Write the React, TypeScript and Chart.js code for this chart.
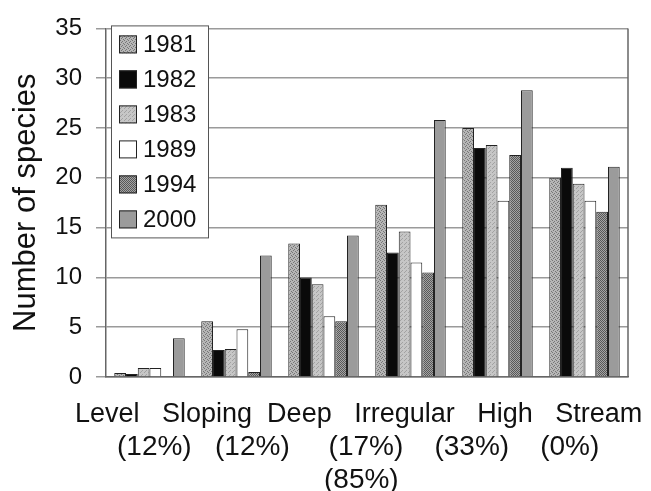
import { useEffect, useRef } from 'react';
import { Chart, registerables } from 'chart.js';

Chart.register(...registerables);

const categories = ['Level', 'Sloping', 'Deep', 'Irregular', 'High', 'Stream'];
const years = ['1981', '1982', '1983', '1989', '1994', '2000'];
const v1981 = [0.4, 5.6, 13.4, 17.3, 25.0, 20.0];
const v1982 = [0.3, 2.7, 10.0, 12.5, 23.0, 21.0];
const v1983 = [0.9, 2.8, 9.3, 14.6, 23.3, 19.4];
const v1989 = [0.9, 4.8, 6.1, 11.5, 17.7, 17.7];
const v1994 = [0, 0.5, 5.6, 10.5, 22.3, 16.6];
const v2000 = [3.9, 12.2, 14.2, 25.8, 28.8, 21.1];
const yMin = 0;
const yMax = 35;
const yStep = 5;
const yTitle = 'Number of species';
const xLabelLine1 = 'Level   Sloping  Deep   Irregular   High   Stream';
const xLabelLine2 = '(12%)   (12%)     (17%)    (33%)    (0%)';
const xLabelLine3 = '(85%)';

const FONT = "'Liberation Sans', Arial, Helvetica, sans-serif";

function makePattern(bg: string, fg: string, cells: number[][], size = 4) {
  const c = document.createElement('canvas');
  c.width = size;
  c.height = size;
  const x = c.getContext('2d')!;
  x.fillStyle = bg;
  x.fillRect(0, 0, size, size);
  x.fillStyle = fg;
  cells.forEach(([i, j]) => x.fillRect(i, j, 1, 1));
  return x.createPattern(c, 'repeat')!;
}

export default function App() {
  const ref = useRef<HTMLCanvasElement | null>(null);

  useEffect(() => {
    if (!ref.current) return;
    const fills: any[] = [
      makePattern('#b6b6b6', '#767676', [[0, 0], [2, 1], [1, 2], [3, 3]]),
      '#0a0a0a',
      makePattern('#c6c6c6', '#a2a2a2', [[0, 0], [2, 2], [1, 3]]),
      '#ffffff',
      makePattern('#a4a4a4', '#585858', [[0, 0], [2, 0], [1, 1], [3, 1], [0, 2], [2, 2], [1, 3], [3, 3]]),
      '#9b9b9b',
    ];
    const series = [v1981, v1982, v1983, v1989, v1994, v2000];

    const decor = {
      id: 'decor',
      afterDatasetsDraw(chart: any) {
        const { ctx, chartArea } = chart;
        ctx.save();
        // right border of the plot
        ctx.strokeStyle = '#666';
        ctx.lineWidth = 1.5;
        ctx.beginPath();
        ctx.moveTo(chartArea.right, chartArea.top);
        ctx.lineTo(chartArea.right, chartArea.bottom);
        ctx.stroke();
        // legend box inside the plot
        const bx = chartArea.left + 5;
        const by = chartArea.top - 3;
        const bw = 97;
        const bh = 212;
        ctx.fillStyle = '#ffffff';
        ctx.fillRect(bx, by, bw, bh);
        ctx.strokeStyle = '#555';
        ctx.lineWidth = 1;
        ctx.strokeRect(bx + 0.5, by + 0.5, bw, bh);
        ctx.font = `24px ${FONT}`;
        ctx.textBaseline = 'middle';
        ctx.textAlign = 'left';
        chart.data.datasets.forEach((ds: any, i: number) => {
          const cy = chartArea.top + 16 + i * 35;
          ctx.fillStyle = ds.backgroundColor;
          ctx.fillRect(bx + 8, cy - 9, 18, 18);
          ctx.strokeStyle = '#222';
          ctx.strokeRect(bx + 8.5, cy - 8.5, 17, 17);
          ctx.fillStyle = '#111';
          ctx.fillText(ds.label, bx + 32, cy + 1);
        });
        ctx.restore();
      },
      afterDraw(chart: any) {
        const { ctx, chartArea } = chart;
        ctx.save();
        ctx.fillStyle = '#111';
        ctx.textAlign = 'left';
        ctx.textBaseline = 'alphabetic';
        ctx.font = `27px ${FONT}`;
        ctx.fillText(xLabelLine1, chartArea.left - 31, chartArea.bottom + 45);
        ctx.font = `28px ${FONT}`;
        ctx.fillText(xLabelLine2, chartArea.left + 11, chartArea.bottom + 78);
        ctx.fillText(xLabelLine3, chartArea.left + 218, chartArea.bottom + 111);
        ctx.restore();
      },
    };

    const chart = new Chart(ref.current, {
      type: 'bar',
      data: {
        labels: categories,
        datasets: years.map((y, i) => ({
          label: y,
          data: series[i],
          backgroundColor: fills[i],
          borderColor: '#222',
          borderWidth: 1,
          categoryPercentage: 0.81,
          barPercentage: 1.0,
        })),
      },
      options: {
        animation: false,
        responsive: true,
        maintainAspectRatio: false,
        layout: { padding: { top: 22, right: 23, left: 0, bottom: 0 } },
        plugins: {
          legend: { display: false },
          tooltip: { enabled: false },
        },
        scales: {
          x: {
            grid: { display: false },
            border: { display: true, color: '#666', width: 1.5 },
            ticks: { display: false },
            afterFit(scale: any) {
              scale.height = 114;
            },
          },
          y: {
            min: yMin,
            max: yMax,
            ticks: {
              stepSize: yStep,
              color: '#111',
              padding: 14,
              font: { family: FONT, size: 24 },
            },
            grid: {
              color: '#9a9a9a',
              lineWidth: 1.5,
              tickLength: 10,
              drawTicks: true,
            },
            border: { display: true, color: '#666', width: 1.5 },
            title: {
              display: true,
              text: yTitle,
              color: '#111',
              font: { family: FONT, size: 31, lineHeight: 1.2 },
              padding: { top: 8, bottom: 0 },
            },
            afterFit(scale: any) {
              scale.width = 106;
            },
          },
        },
      },
      plugins: [decor],
    } as any);

    return () => chart.destroy();
  }, []);

  return (
    <div style={{ position: 'absolute', left: 0, top: 0, width: 651, height: 491, background: '#fff' }}>
      <canvas ref={ref} />
    </div>
  );
}
